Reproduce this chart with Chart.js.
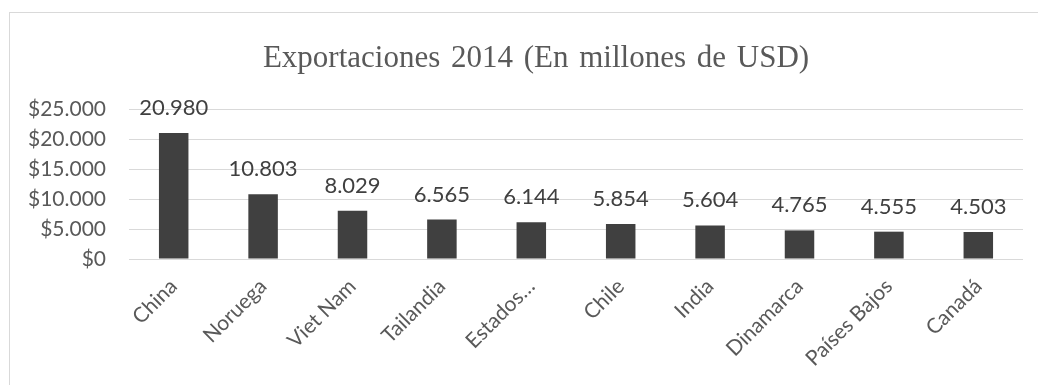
<!DOCTYPE html>
<html>
<head>
<meta charset="utf-8">
<script src="https://cdn.jsdelivr.net/npm/chart.js@4.4.1/dist/chart.umd.min.js"></script>
<style>
  html, body { margin: 0; padding: 0; background: #fff; overflow: hidden; }
  #frame {
    position: absolute; left: 9px; top: 12px;
    width: 1052px; height: 373px;
    border-top: 1px solid #d9d9d9; border-left: 1px solid #d9d9d9;
  }
  #chart { display: block; }
</style>
</head>
<body>
<div id="frame"><canvas id="chart" width="1052" height="373"></canvas></div>
<script>
// Datos
const countries = ['China', 'Noruega', 'Viet Nam', 'Tailandia', 'Estados…', 'Chile', 'India', 'Dinamarca', 'Países Bajos', 'Canadá'];
const exports2014 = [20980, 10803, 8029, 6565, 6144, 5854, 5604, 4765, 4555, 4503];
const yTicks = [0, 5000, 10000, 15000, 20000, 25000];
const chartTitle = 'Exportaciones 2014 (En millones de USD)';

const textColor = '#595959';
const gridColor = '#d9d9d9';

// separador de miles con punto
function fmt(n) {
    return String(Math.round(n)).replace(/\B(?=(\d{3})+(?!\d))/g, '.');
}

// título (centrado en todo el marco) y etiquetas de datos
const barLabels = {
    id: 'barLabels',
    afterDraw(chart) {
        const ctx = chart.ctx;
        ctx.save();
        ctx.font = "31px 'Liberation Serif'";
        ctx.fillStyle = textColor;
        ctx.textAlign = 'center';
        ctx.textBaseline = 'middle';
        if ('wordSpacing' in ctx) ctx.wordSpacing = '3px';
        ctx.fillText(chartTitle, chart.width / 2, 46);
        ctx.restore();
    },
    afterDatasetsDraw(chart) {
        const ctx = chart.ctx;
        const meta = chart.getDatasetMeta(0);
        ctx.save();
        ctx.font = "22px Lato";
        ctx.fillStyle = '#404040';
        ctx.textAlign = 'center';
        ctx.textBaseline = 'alphabetic';
        meta.data.forEach(function(bar, i) {
            ctx.fillText(fmt(exports2014[i]), bar.x, bar.y - 18);
        });
        ctx.restore();
    }
};

new Chart(document.getElementById('chart'), {
    type: 'bar',
    data: {
        labels: countries,
        datasets: [{
            data: exports2014,
            backgroundColor: '#404040',
            borderWidth: 0,
            barPercentage: 0.33,
            categoryPercentage: 1
        }]
    },
    options: {
        responsive: false,
        animation: false,
        layout: { padding: { left: 0, right: 39, top: 96, bottom: 0 } },
        plugins: {
            legend: { display: false },
            tooltip: { enabled: false },
            title: { display: false }
        },
        scales: {
            x: {
                grid: { display: false },
                border: { display: false },
                ticks: {
                    color: textColor,
                    font: { family: 'Lato', size: 21 },
                    minRotation: 45,
                    maxRotation: 45,
                    autoSkip: false,
                    padding: 7
                },
                afterFit(scale) { scale.height = 127; }
            },
            y: {
                min: 0,
                max: 25000,
                afterBuildTicks(scale) {
                    scale.ticks = yTicks.map(v => ({ value: v }));
                },
                grid: { color: gridColor, drawTicks: false },
                border: { display: false },
                ticks: {
                    color: textColor,
                    font: { family: 'Lato', size: 21 },
                    padding: 23,
                    callback: v => '$' + fmt(v)
                },
                afterFit(scale) { scale.width = 119; }
            }
        }
    },
    plugins: [barLabels]
});
</script>
</body>
</html>
